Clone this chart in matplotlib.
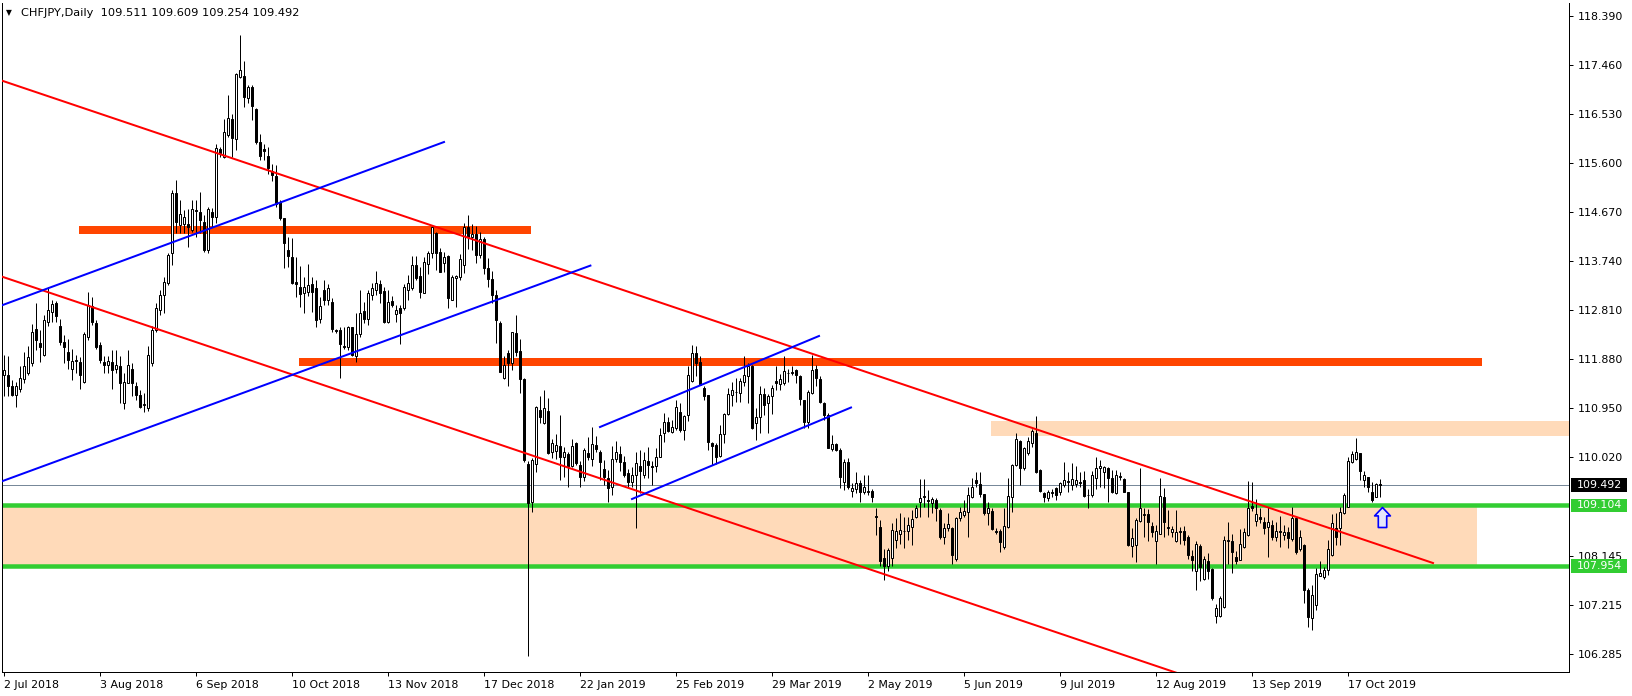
import matplotlib
matplotlib.use('Agg')
import matplotlib.pyplot as plt
import matplotlib.transforms as mtransforms
from matplotlib.path import Path
from matplotlib.patches import Rectangle
import numpy as np

# ---------------- data ----------------
title_text = "CHFJPY,Daily  109.511 109.609 109.254 109.492"
date_labels = ["2 Jul 2018", "3 Aug 2018", "6 Sep 2018", "10 Oct 2018", "13 Nov 2018",
               "17 Dec 2018", "22 Jan 2019", "25 Feb 2019", "29 Mar 2019", "2 May 2019",
               "5 Jun 2019", "9 Jul 2019", "12 Aug 2019", "13 Sep 2019", "17 Oct 2019"]
bars_per_label = 24

opens = [111.58, 111.58, 111.36, 111.20, 111.31, 111.50, 111.62, 111.81, 112.46, 112.19,
         111.96, 112.59, 112.78, 112.94, 112.51, 112.21, 112.02, 111.70, 111.86, 111.83,
         111.45, 112.29, 112.88, 112.56, 112.15, 111.83, 111.77, 111.83, 111.69, 111.75,
         111.04, 111.43, 111.70, 111.37, 111.20, 111.00, 110.95, 111.80, 112.43, 112.81,
         113.10, 113.32, 113.89, 115.04, 114.43, 114.44, 114.44, 114.33, 114.71, 114.68,
         114.49, 113.95, 114.68, 114.58, 115.86, 115.72, 116.13, 116.43, 116.05, 117.24,
         117.25, 116.83, 117.05, 116.62, 115.99, 115.87, 115.73, 115.44, 115.36, 114.87,
         114.55, 113.95, 113.82, 113.34, 113.25, 113.13, 113.16, 113.30, 113.22, 112.65,
         113.20, 113.00, 112.96, 112.43, 112.44, 112.13, 112.10, 112.48, 111.94, 112.36,
         112.80, 112.65, 113.10, 113.20, 113.30, 113.18, 112.59, 112.99, 112.74, 112.84,
         112.84, 113.20, 113.22, 113.67, 113.46, 113.14, 113.68, 113.89, 114.27, 113.92,
         113.70, 113.84, 113.01, 113.41, 113.43, 113.66, 114.38, 114.20, 114.25, 113.85,
         114.15, 113.60, 113.40, 113.10, 112.56, 111.53, 112.00, 111.80, 112.37, 112.03,
         111.50, 109.89, 109.16, 109.89, 110.91, 110.66, 110.90, 110.12, 110.14, 110.23,
         110.02, 110.08, 109.85, 110.28, 109.87, 109.64, 110.09, 109.98, 110.25, 110.11,
         109.79, 109.62, 109.46, 109.99, 110.08, 109.92, 109.71, 109.54, 109.68, 109.85,
         109.68, 109.94, 109.85, 109.85, 110.03, 110.47, 110.69, 110.49, 110.57, 110.88,
         110.54, 110.82, 111.47, 112.00, 111.83, 111.33, 111.20, 110.28, 110.25, 110.04,
         110.46, 110.84, 111.20, 111.25, 111.24, 111.45, 111.56, 111.74, 110.67, 110.79,
         111.22, 111.04, 111.18, 111.47, 111.41, 111.42, 111.61, 111.62, 111.67, 111.55,
         111.10, 110.69, 111.24, 111.70, 111.51, 111.04, 110.82, 110.17, 110.27, 110.16,
         109.54, 109.93, 109.38, 109.41, 109.52, 109.35, 109.35, 109.38, 108.90, 108.70,
         108.10, 107.95, 108.10, 108.45, 108.57, 108.61, 108.62, 108.70, 108.89, 109.16,
         109.28, 109.21, 109.14, 109.20, 109.02, 108.51, 108.67, 108.67, 108.08, 108.86,
         108.92, 108.97, 109.27, 109.59, 109.51, 109.32, 108.95, 109.00, 108.61, 108.62,
         108.32, 108.69, 109.27, 109.87, 110.33, 109.81, 110.09, 110.29, 110.48, 109.78,
         109.33, 109.24, 109.33, 109.43, 109.35, 109.49, 109.54, 109.49, 109.51, 109.55,
         109.59, 109.30, 109.30, 109.62, 109.81, 109.73, 109.81, 109.62, 109.33, 109.64,
         109.60, 109.35, 108.33, 108.35, 108.81, 108.93, 108.94, 108.71, 108.42, 108.57,
         109.26, 108.70, 108.59, 108.42, 108.62, 108.61, 108.50, 108.14, 107.85, 108.33,
         107.70, 108.05, 107.89, 107.00, 107.00, 107.17, 108.43, 108.42, 108.13, 108.07,
         108.32, 108.54, 109.09, 108.81, 108.88, 108.78, 108.70, 108.73, 108.51, 108.61,
         108.54, 108.59, 108.46, 108.86, 108.27, 108.35, 107.50, 106.96, 107.21, 107.77,
         107.75, 107.88, 108.16, 108.67, 108.67, 108.95, 109.08, 109.93, 109.98, 110.09,
         109.59, 109.64, 109.35, 109.27, 109.511]
highs = [111.96, 111.93, 111.48, 111.45, 111.74, 112.02, 112.12, 112.55, 112.94, 112.44,
         112.72, 113.25, 113.00, 112.99, 112.65, 112.34, 112.27, 112.08, 111.96, 111.91,
         112.40, 113.16, 113.06, 112.63, 112.21, 111.93, 111.93, 112.05, 112.05, 111.93,
         111.61, 112.05, 111.80, 111.45, 111.29, 111.23, 112.13, 112.50, 112.94, 113.19,
         113.44, 113.89, 115.09, 115.28, 114.90, 114.71, 114.72, 114.90, 114.90, 115.06,
         114.61, 114.76, 114.74, 115.97, 115.91, 116.43, 116.89, 116.54, 117.31, 118.03,
         117.54, 117.08, 117.08, 116.64, 116.16, 115.97, 115.91, 115.59, 115.56, 114.90,
         114.56, 114.20, 114.17, 113.82, 113.65, 113.43, 113.68, 113.44, 113.39, 113.05,
         113.39, 113.30, 113.03, 112.46, 112.49, 112.49, 112.51, 112.49, 112.75, 113.20,
         112.97, 113.19, 113.32, 113.56, 113.38, 113.25, 113.19, 113.08, 112.91, 112.91,
         113.30, 113.47, 113.84, 113.84, 113.63, 113.82, 113.94, 114.40, 114.30, 113.98,
         113.92, 113.86, 113.47, 113.47, 113.87, 114.46, 114.61, 114.45, 114.40, 114.30,
         114.20, 113.80, 113.55, 113.20, 112.60, 111.93, 112.05, 112.40, 112.72, 112.26,
         111.52, 109.95, 110.00, 110.99, 111.17, 111.29, 111.15, 110.36, 110.46, 110.82,
         110.22, 110.12, 110.36, 110.30, 109.95, 110.19, 110.41, 110.60, 110.42, 110.15,
         109.97, 109.78, 110.23, 110.33, 110.23, 110.04, 109.79, 109.83, 110.12, 110.15,
         110.12, 110.22, 109.95, 110.19, 110.57, 110.85, 110.79, 110.72, 111.10, 111.04,
         110.82, 111.74, 112.15, 112.12, 111.93, 111.36, 111.20, 110.30, 110.28, 110.63,
         110.85, 111.33, 111.45, 111.52, 111.53, 111.94, 111.80, 111.77, 110.95, 111.36,
         111.34, 111.22, 111.39, 111.74, 111.60, 111.94, 111.69, 111.75, 111.70, 111.58,
         111.10, 111.29, 111.96, 111.77, 111.55, 111.07, 110.85, 110.44, 110.28, 110.19,
         109.98, 110.00, 109.52, 109.74, 109.59, 109.68, 109.68, 109.41, 109.05, 108.83,
         108.28, 108.30, 108.76, 108.86, 108.95, 108.89, 108.89, 109.02, 109.11, 109.60,
         109.60, 109.40, 109.27, 109.24, 109.05, 108.76, 108.96, 108.70, 108.89, 109.07,
         109.21, 109.45, 109.62, 109.74, 109.74, 109.32, 109.17, 109.05, 108.67, 108.65,
         109.05, 109.62, 109.89, 110.47, 110.34, 110.22, 110.41, 110.55, 110.80, 109.80,
         109.35, 109.40, 109.41, 109.45, 109.55, 109.93, 109.74, 109.91, 109.85, 109.74,
         109.76, 109.41, 109.76, 110.03, 109.97, 109.85, 109.84, 109.78, 109.78, 109.74,
         109.62, 109.35, 108.67, 108.86, 109.81, 109.05, 109.03, 108.78, 108.73, 109.62,
         109.43, 109.02, 108.71, 109.02, 108.70, 108.71, 108.54, 108.26, 108.42, 108.37,
         108.14, 108.20, 107.91, 107.24, 107.38, 108.52, 108.78, 108.56, 108.23, 108.65,
         108.67, 109.57, 109.55, 109.22, 109.05, 108.88, 109.07, 108.83, 108.78, 108.90,
         108.73, 108.70, 109.07, 108.89, 108.63, 108.37, 107.53, 107.59, 107.91, 108.04,
         107.94, 108.45, 108.94, 108.95, 109.07, 109.33, 110.03, 110.14, 110.38, 110.10,
         109.76, 109.64, 109.55, 109.52, 109.609]
lows = [111.17, 111.17, 111.17, 110.98, 111.26, 111.42, 111.58, 111.74, 112.05, 111.83,
        111.93, 112.50, 112.59, 112.59, 112.15, 111.81, 111.70, 111.48, 111.61, 111.31,
        111.43, 112.24, 112.53, 112.08, 111.81, 111.61, 111.61, 111.31, 111.61, 111.04,
        110.93, 111.42, 111.17, 111.10, 110.95, 110.88, 110.90, 111.74, 112.40, 112.72,
        112.75, 113.29, 113.67, 114.27, 114.27, 114.27, 114.00, 114.30, 114.20, 114.27,
        113.92, 113.89, 114.39, 114.46, 115.72, 115.69, 116.09, 115.72, 115.85, 117.21,
        116.67, 116.73, 116.42, 115.97, 115.66, 115.66, 115.40, 115.25, 114.77, 114.52,
        113.60, 113.62, 113.30, 113.05, 112.87, 112.75, 113.08, 112.78, 112.49, 112.56,
        112.91, 112.91, 112.40, 112.38, 111.53, 112.08, 112.06, 111.94, 111.83, 112.30,
        112.57, 112.53, 113.00, 113.10, 112.95, 112.57, 112.57, 112.87, 112.59, 112.17,
        112.82, 113.00, 113.19, 113.38, 113.03, 113.13, 113.49, 113.79, 113.57, 113.54,
        113.54, 112.84, 113.00, 112.87, 113.38, 113.51, 113.96, 113.95, 113.70, 113.80,
        113.50, 113.25, 112.95, 112.19, 111.64, 111.51, 111.36, 111.67, 111.94, 111.24,
        109.93, 106.25, 108.97, 109.73, 110.66, 110.65, 110.08, 110.00, 109.98, 109.59,
        109.65, 109.46, 109.84, 109.87, 109.45, 109.56, 109.97, 109.85, 110.12, 109.59,
        109.49, 109.16, 109.30, 109.93, 109.76, 109.64, 109.46, 109.46, 108.67, 109.33,
        109.62, 109.62, 109.49, 109.74, 110.02, 110.30, 110.50, 110.47, 110.54, 110.50,
        110.35, 110.71, 111.45, 111.55, 111.39, 111.10, 110.15, 109.87, 109.89, 110.02,
        110.29, 110.82, 110.99, 111.07, 111.07, 111.36, 111.05, 110.55, 110.35, 110.47,
        110.82, 110.47, 110.84, 111.29, 111.29, 111.39, 111.45, 111.58, 111.42, 111.01,
        110.57, 110.57, 111.22, 111.36, 111.05, 110.72, 110.19, 110.14, 110.14, 109.43,
        109.40, 109.41, 109.27, 109.33, 109.17, 109.32, 109.30, 109.16, 108.54, 107.95,
        107.68, 107.85, 107.95, 108.29, 108.38, 108.29, 108.45, 108.35, 108.86, 108.89,
        109.08, 108.89, 108.95, 108.80, 108.46, 108.38, 108.62, 108.00, 108.04, 108.80,
        108.89, 108.51, 109.24, 109.45, 109.27, 108.92, 108.73, 108.64, 108.57, 108.21,
        108.27, 108.67, 108.98, 109.85, 109.49, 109.78, 110.06, 110.21, 109.72, 109.36,
        109.17, 109.19, 109.26, 109.21, 109.30, 109.45, 109.36, 109.40, 109.46, 109.46,
        109.27, 109.05, 109.27, 109.41, 109.45, 109.43, 109.16, 109.33, 109.32, 109.59,
        109.35, 108.33, 108.12, 108.02, 108.79, 108.51, 108.42, 108.51, 107.99, 108.56,
        108.51, 108.55, 108.51, 108.40, 108.38, 108.35, 108.08, 107.85, 107.49, 107.66,
        107.69, 107.70, 107.31, 106.87, 106.98, 107.15, 108.00, 107.83, 108.00, 108.06,
        108.29, 108.52, 109.00, 108.71, 108.76, 108.56, 108.13, 108.45, 108.42, 108.32,
        108.45, 108.29, 108.42, 108.19, 108.23, 107.25, 106.80, 106.74, 107.12, 107.77,
        107.70, 107.78, 108.14, 108.35, 108.35, 108.94, 109.07, 109.90, 109.97, 109.59,
        109.45, 109.35, 109.17, 109.26, 109.254]
closes = [111.67, 111.36, 111.20, 111.36, 111.53, 111.74, 111.91, 112.40, 112.24, 112.11,
          112.62, 112.82, 112.93, 112.69, 112.21, 112.11, 111.86, 111.85, 111.85, 111.58,
          112.36, 112.91, 112.59, 112.11, 111.86, 111.77, 111.85, 111.67, 111.77, 111.42,
          111.45, 111.77, 111.42, 111.20, 110.98, 111.03, 111.96, 112.43, 112.84, 113.10,
          113.35, 113.86, 115.04, 114.49, 114.63, 114.57, 114.38, 114.72, 114.69, 114.52,
          113.95, 114.72, 114.58, 115.88, 115.80, 116.18, 116.45, 116.07, 117.29, 117.37,
          116.86, 117.05, 116.68, 115.99, 115.73, 115.82, 115.50, 115.37, 114.83, 114.55,
          114.08, 113.84, 113.32, 113.30, 113.11, 113.24, 113.29, 113.16, 112.63, 112.89,
          113.00, 113.22, 112.46, 112.41, 112.17, 112.10, 112.48, 111.96, 112.36, 112.76,
          112.65, 113.13, 113.22, 113.32, 113.13, 112.59, 112.97, 112.91, 112.82, 112.76,
          113.24, 113.32, 113.67, 113.41, 113.16, 113.73, 113.89, 114.38, 113.90, 113.54,
          113.82, 113.03, 113.43, 113.46, 113.77, 114.38, 114.20, 114.25, 113.85, 114.15,
          113.60, 113.40, 113.10, 112.62, 111.64, 111.77, 111.80, 112.39, 112.02, 111.50,
          109.97, 109.14, 109.97, 110.97, 110.78, 110.95, 110.10, 110.28, 110.25, 110.03,
          110.12, 109.85, 110.23, 109.90, 109.64, 110.16, 110.02, 110.27, 110.18, 109.92,
          109.65, 109.43, 109.98, 110.11, 109.93, 109.68, 109.54, 109.68, 109.90, 109.76,
          109.97, 109.87, 109.83, 110.03, 110.44, 110.69, 110.52, 110.60, 110.98, 110.54,
          110.80, 111.58, 111.99, 111.80, 111.39, 111.18, 110.30, 110.24, 110.03, 110.46,
          110.84, 111.22, 111.29, 111.26, 111.47, 111.58, 111.74, 110.57, 110.79, 111.22,
          111.01, 111.18, 111.33, 111.42, 111.50, 111.66, 111.62, 111.64, 111.58, 111.12,
          110.69, 111.26, 111.67, 111.53, 111.07, 110.82, 110.19, 110.27, 110.16, 109.65,
          109.92, 109.45, 109.43, 109.52, 109.35, 109.46, 109.38, 109.26, 108.89, 108.05,
          107.95, 108.26, 108.64, 108.62, 108.64, 108.62, 108.73, 108.84, 109.05, 109.24,
          109.26, 109.18, 109.22, 109.05, 108.50, 108.67, 108.75, 108.16, 108.86, 108.97,
          109.00, 109.30, 109.45, 109.52, 109.32, 108.95, 109.05, 108.65, 108.60, 108.40,
          108.71, 109.28, 109.87, 110.36, 109.81, 110.19, 110.33, 110.52, 109.74, 109.38,
          109.27, 109.35, 109.36, 109.30, 109.52, 109.59, 109.57, 109.60, 109.59, 109.52,
          109.28, 109.30, 109.68, 109.81, 109.85, 109.84, 109.62, 109.35, 109.68, 109.66,
          109.36, 108.35, 108.48, 108.83, 109.05, 108.94, 108.78, 108.59, 108.61, 109.28,
          108.78, 108.67, 108.65, 108.59, 108.59, 108.45, 108.16, 108.07, 108.37, 107.94,
          108.08, 107.85, 107.34, 107.15, 107.34, 108.45, 108.45, 108.21, 108.04, 108.38,
          108.59, 109.05, 109.05, 108.94, 108.84, 108.67, 108.79, 108.51, 108.62, 108.60,
          108.59, 108.48, 108.86, 108.21, 108.50, 107.49, 106.99, 107.40, 107.80, 107.82,
          107.88, 108.27, 108.76, 108.51, 108.97, 109.30, 109.95, 110.08, 110.12, 109.76,
          109.68, 109.45, 109.21, 109.51, 109.492]

price_tick_values = [118.390, 117.460, 116.530, 115.600, 114.670, 113.740, 112.810,
                     111.880, 110.950, 110.020, 108.145, 107.215, 106.285]
bid_price = 109.492
green_levels = [109.104, 107.954]

# thick horizontal resistance lines: (start bar, end bar, price)
thick_lines = [(18.75, 131.75, 114.33), (73.75, 369.5, 111.824)]
# shaded zones: (start bar, end bar, low price, high price)
zones = [(246.75, 400.0, 110.426, 110.705), (-2.0, 368.25, 107.954, 109.104)]
# trend lines: ((bar0, price0), (bar1, price1))
red_lines = [((-1.0, 117.176), (357.25, 108.01)),
             ((-1.0, 113.457), (293.0, 105.93))]
blue_lines = [((-1.0, 112.887), (110.0, 115.999)),
              ((-1.0, 109.548), (146.6, 113.654)),
              ((149.0, 110.591), (203.75, 112.318)),
              ((157.0, 109.225), (211.75, 110.961))]
arrow_point = (344.6, 108.89)

# ---------------- figure ----------------
W, H = 1633, 696
fig = plt.figure(figsize=(W / 100, H / 100), dpi=100)
ax = fig.add_axes([2 / W, (H - 672) / H, (1569 - 2) / W, (672 - 3) / H])
ax.set_xlim(-0.5, 391.25)
ax.set_ylim(105.942, 118.637)

px = 0.72  # one pixel in points

# zones
for b0, b1, lo, hi in zones:
    ax.add_patch(Rectangle((b0, lo), b1 - b0, hi - lo, facecolor='#FFDAB9',
                           edgecolor='none', zorder=1))
# green support lines
for lvl in green_levels:
    ax.axhline(lvl, color='#32CD32', lw=4.5 * px, zorder=2)
# bid line
ax.axhline(bid_price, color='#778899', lw=1 * px, zorder=2)
# thick orange lines
for b0, b1, p in thick_lines:
    ax.plot([b0, b1], [p, p], color='#FF4500', lw=8 * px, solid_capstyle='butt', zorder=2)

# candles
n = len(closes)
x = np.arange(n)
o = np.array(opens); h = np.array(highs); l = np.array(lows); c = np.array(closes)
ax.vlines(x, l, h, color='black', lw=1 * px, zorder=3)
up = c >= o
bottoms = np.minimum(o, c)
heights = np.abs(c - o)
ax.bar(x[up], heights[up], bottom=bottoms[up], width=0.55, facecolor='white',
       edgecolor='black', linewidth=1 * px, zorder=4)
ax.bar(x[~up], heights[~up], bottom=bottoms[~up], width=0.55, facecolor='black',
       edgecolor='black', linewidth=1 * px, zorder=4)

# trend lines
for (b0, p0), (b1, p1) in red_lines:
    ax.plot([b0, b1], [p0, p1], color='#FF0000', lw=2 * px, zorder=5)
for (b0, p0), (b1, p1) in blue_lines:
    ax.plot([b0, b1], [p0, p1], color='#0000FF', lw=2 * px, zorder=5)

# arrow marker
hw, sw, hb = 0.79, 0.42, 0.16
arrow_path = Path([(0, 1), (hw, hb), (sw, hb), (sw, -1), (-sw, -1), (-sw, hb), (-hw, hb), (0, 1)],
                  [Path.MOVETO] + [Path.LINETO] * 6 + [Path.CLOSEPOLY])
ax.plot([arrow_point[0]], [arrow_point[1]], marker=arrow_path, markersize=20 * px,
        markerfacecolor='#E6E6FA', markeredgecolor='#0000FF', markeredgewidth=1.2, zorder=6)

# axes styling
for side in ['left', 'right', 'bottom']:
    ax.spines[side].set_color('black')
    ax.spines[side].set_linewidth(1 * px)
ax.spines['top'].set_visible(False)

font = dict(family='DejaVu Sans', size=7.9)
ax.yaxis.tick_right()
ax.set_yticks(price_tick_values)
ax.set_yticklabels([f"{v:.3f}" for v in price_tick_values], **font)
ax.tick_params(axis='y', which='both', length=3, width=1 * px, pad=3, colors='black',
               direction='out', left=False)
ax.set_xticks([i * bars_per_label for i in range(len(date_labels))])
ax.set_xticklabels(date_labels, ha='left', **font)
ax.tick_params(axis='x', length=3, width=1 * px, pad=3, colors='black', direction='out')

# right-side price boxes
bt = mtransforms.blended_transform_factory(fig.transFigure, ax.transData)
box_h = 13.4 / 52.7
for price, col in [(bid_price, 'black'), (green_levels[0], '#32CD32'), (green_levels[1], '#32CD32')]:
    fig.patches.append(Rectangle((1571 / W, price - box_h / 2), 56 / W, box_h,
                                 transform=bt, facecolor=col, edgecolor='none', zorder=10))
    fig.text(1576.5 / W, price, f"{price:.3f}", transform=bt, color='white',
             va='center', ha='left', zorder=11, **font)

# title
fig.text(6 / W, 1 - 13 / H, "\u25BC", fontsize=5.5, va='center', ha='left', family='DejaVu Sans')
fig.text(21.5 / W, 1 - 13.5 / H, title_text, va='center', ha='left', family='DejaVu Sans', size=8.2)

fig.savefig('out.png', dpi=100, facecolor='white')
